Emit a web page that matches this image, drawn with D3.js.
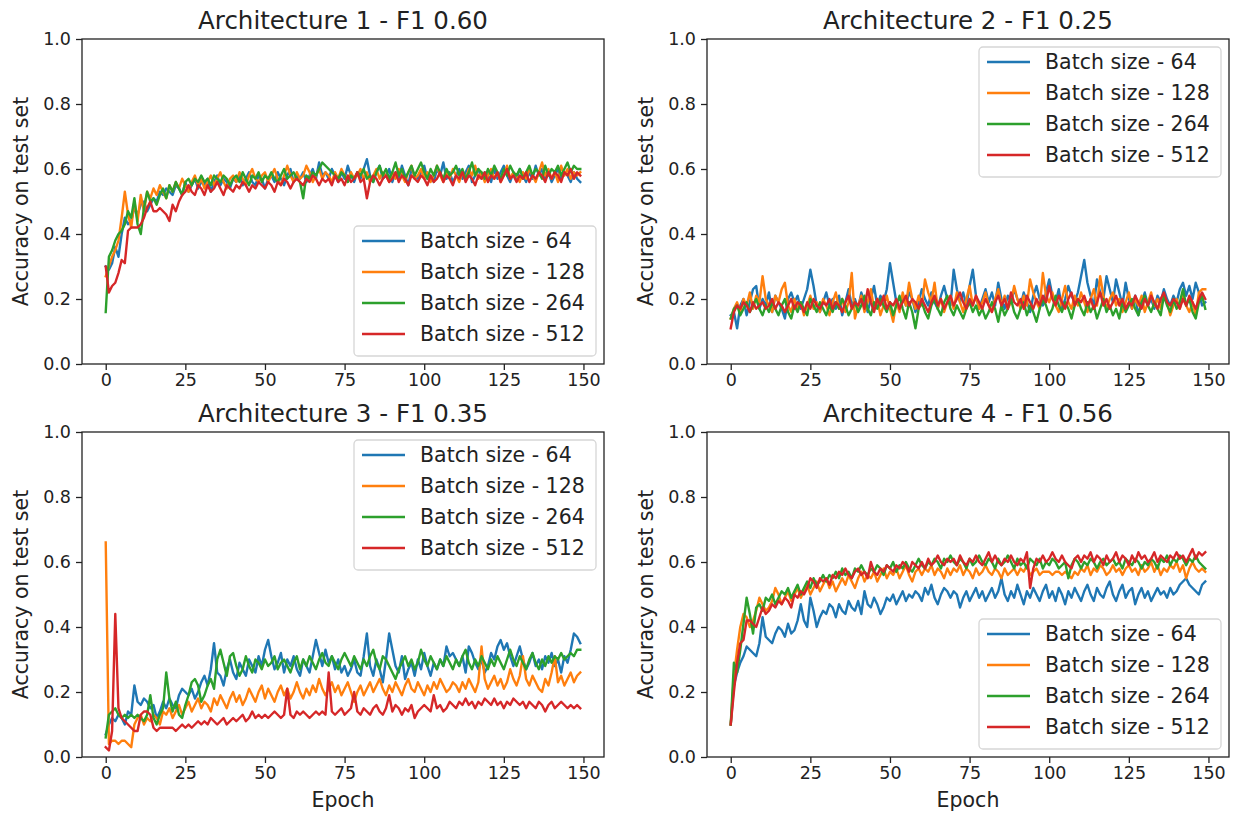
<!DOCTYPE html>
<html>
<head>
<meta charset="utf-8">
<title>Accuracy per architecture</title>
<script src="https://d3js.org/d3.v7.min.js"></script>
<style>
  body { margin: 0; background: #fff; }
  svg text { font-family: "DejaVu Sans", sans-serif; fill: #222; }
</style>
</head>
<body>
<script>
// legend labels / colours
var batchSizes = [64, 128, 264, 512];
var colors = ["#1f77b4", "#ff7f0e", "#2ca02c", "#d62728"];
var titles = ["Architecture 1 - F1 0.60", "Architecture 2 - F1 0.25",
              "Architecture 3 - F1 0.35", "Architecture 4 - F1 0.56"];
var xTicks = [0, 25, 50, 75, 100, 125, 150];
var yTicks = [0.0, 0.2, 0.4, 0.6, 0.8, 1.0];

// accuracy on test set, one value per epoch (0..149)
var arch1_64 = [0.30,0.29,0.31,0.36,0.33,0.40,0.45,0.43,0.44,0.48, 0.46,0.49,0.50,0.47,0.49,0.51,0.50,0.53,0.52,0.54, 0.53,0.52,0.55,0.54,0.52,0.56,0.53,0.55,0.57,0.54, 0.56,0.55,0.57,0.53,0.56,0.58,0.55,0.57,0.56,0.54, 0.57,0.56,0.58,0.55,0.57,0.59,0.56,0.55,0.58,0.57, 0.54,0.57,0.58,0.56,0.59,0.57,0.55,0.58,0.60,0.56, 0.58,0.57,0.59,0.56,0.58,0.60,0.57,0.62,0.58,0.59, 0.57,0.60,0.58,0.56,0.59,0.57,0.61,0.58,0.56,0.59, 0.57,0.60,0.63,0.58,0.56,0.59,0.61,0.57,0.58,0.60, 0.56,0.59,0.57,0.61,0.58,0.55,0.60,0.58,0.57,0.59, 0.61,0.57,0.58,0.56,0.60,0.58,0.62,0.57,0.59,0.56, 0.58,0.60,0.57,0.59,0.61,0.56,0.58,0.60,0.57,0.59, 0.58,0.56,0.60,0.57,0.59,0.61,0.58,0.56,0.59,0.57, 0.60,0.58,0.56,0.59,0.57,0.61,0.58,0.60,0.57,0.59, 0.56,0.58,0.60,0.57,0.59,0.58,0.56,0.59,0.57,0.56];
var arch1_128 = [0.27,0.30,0.33,0.35,0.38,0.45,0.53,0.46,0.42,0.50, 0.44,0.52,0.47,0.53,0.51,0.54,0.52,0.55,0.53,0.51, 0.55,0.53,0.56,0.54,0.57,0.55,0.53,0.56,0.58,0.55, 0.57,0.54,0.56,0.58,0.55,0.57,0.59,0.56,0.54,0.57, 0.58,0.56,0.59,0.57,0.55,0.58,0.60,0.57,0.56,0.58, 0.59,0.56,0.58,0.60,0.57,0.55,0.58,0.61,0.58,0.56, 0.59,0.57,0.58,0.61,0.59,0.56,0.58,0.60,0.57,0.59, 0.58,0.56,0.59,0.57,0.60,0.58,0.56,0.59,0.57,0.58, 0.60,0.57,0.59,0.56,0.58,0.60,0.57,0.59,0.58,0.56, 0.59,0.57,0.60,0.58,0.56,0.59,0.61,0.57,0.58,0.60, 0.57,0.59,0.56,0.58,0.61,0.58,0.56,0.59,0.57,0.60, 0.58,0.56,0.59,0.57,0.60,0.58,0.61,0.57,0.59,0.56, 0.58,0.60,0.57,0.59,0.56,0.58,0.61,0.57,0.59,0.58, 0.56,0.59,0.57,0.60,0.58,0.56,0.59,0.62,0.58,0.60, 0.57,0.59,0.56,0.61,0.58,0.60,0.57,0.59,0.58,0.59];
var arch1_264 = [0.16,0.33,0.35,0.38,0.40,0.41,0.43,0.47,0.45,0.51, 0.43,0.40,0.48,0.53,0.50,0.51,0.49,0.52,0.54,0.51, 0.55,0.53,0.56,0.54,0.52,0.56,0.57,0.55,0.57,0.56, 0.58,0.56,0.57,0.55,0.58,0.57,0.56,0.58,0.57,0.55, 0.57,0.58,0.56,0.59,0.57,0.55,0.58,0.57,0.59,0.56, 0.58,0.57,0.59,0.57,0.56,0.58,0.60,0.57,0.58,0.59, 0.57,0.56,0.51,0.58,0.57,0.59,0.58,0.60,0.62,0.61, 0.60,0.59,0.58,0.57,0.59,0.58,0.56,0.58,0.57,0.59, 0.58,0.60,0.57,0.58,0.56,0.59,0.61,0.58,0.60,0.57, 0.59,0.62,0.58,0.60,0.57,0.59,0.61,0.58,0.60,0.62, 0.59,0.57,0.60,0.58,0.61,0.59,0.57,0.60,0.58,0.59, 0.61,0.58,0.60,0.57,0.59,0.62,0.58,0.60,0.59,0.57, 0.60,0.58,0.61,0.59,0.57,0.60,0.58,0.61,0.59,0.58, 0.60,0.57,0.59,0.61,0.58,0.60,0.59,0.57,0.61,0.58, 0.60,0.59,0.61,0.58,0.60,0.62,0.59,0.61,0.60,0.60];
var arch1_512 = [0.30,0.22,0.24,0.25,0.28,0.32,0.31,0.41,0.42,0.42, 0.42,0.43,0.45,0.48,0.50,0.47,0.47,0.48,0.47,0.46, 0.44,0.49,0.47,0.50,0.52,0.53,0.55,0.53,0.52,0.55, 0.54,0.52,0.55,0.53,0.54,0.56,0.54,0.52,0.55,0.54, 0.53,0.55,0.54,0.56,0.55,0.53,0.55,0.54,0.56,0.55, 0.54,0.56,0.55,0.53,0.56,0.55,0.57,0.56,0.54,0.56, 0.57,0.56,0.55,0.57,0.56,0.58,0.57,0.55,0.57,0.56, 0.57,0.55,0.58,0.56,0.57,0.55,0.58,0.56,0.57,0.59, 0.56,0.57,0.51,0.56,0.58,0.57,0.55,0.57,0.58,0.56, 0.57,0.59,0.56,0.58,0.57,0.55,0.58,0.57,0.56,0.58, 0.57,0.55,0.58,0.56,0.57,0.59,0.56,0.58,0.57,0.55, 0.58,0.57,0.59,0.56,0.58,0.57,0.55,0.58,0.57,0.59, 0.56,0.58,0.57,0.59,0.56,0.58,0.60,0.57,0.58,0.56, 0.58,0.57,0.59,0.56,0.58,0.57,0.59,0.58,0.56,0.59, 0.57,0.59,0.58,0.56,0.59,0.58,0.60,0.57,0.59,0.58];

var arch2_64 = [0.15,0.16,0.11,0.18,0.20,0.15,0.19,0.23,0.24,0.17, 0.20,0.18,0.22,0.16,0.21,0.19,0.17,0.14,0.20,0.22, 0.19,0.21,0.17,0.20,0.23,0.29,0.24,0.18,0.16,0.19, 0.22,0.18,0.20,0.17,0.21,0.15,0.19,0.23,0.18,0.20, 0.17,0.22,0.19,0.16,0.20,0.24,0.18,0.21,0.19,0.23, 0.31,0.25,0.19,0.17,0.21,0.18,0.22,0.20,0.16,0.19, 0.23,0.20,0.18,0.22,0.19,0.17,0.21,0.24,0.20,0.18, 0.29,0.23,0.19,0.22,0.18,0.24,0.29,0.21,0.17,0.20, 0.23,0.19,0.22,0.18,0.25,0.20,0.17,0.21,0.19,0.23, 0.20,0.18,0.22,0.19,0.16,0.21,0.24,0.20,0.18,0.22, 0.26,0.21,0.19,0.23,0.17,0.20,0.24,0.21,0.19,0.22, 0.27,0.32,0.25,0.21,0.18,0.26,0.22,0.20,0.27,0.23, 0.19,0.26,0.22,0.18,0.25,0.20,0.17,0.21,0.15,0.19, 0.22,0.18,0.20,0.17,0.21,0.19,0.23,0.20,0.18,0.21, 0.19,0.23,0.25,0.21,0.24,0.20,0.25,0.22,0.18,0.19];
var arch2_128 = [0.14,0.17,0.19,0.16,0.20,0.18,0.22,0.17,0.21,0.19, 0.27,0.20,0.18,0.16,0.21,0.19,0.23,0.25,0.18,0.16, 0.20,0.17,0.19,0.15,0.18,0.21,0.17,0.19,0.16,0.20, 0.18,0.15,0.19,0.22,0.17,0.20,0.16,0.19,0.28,0.14, 0.18,0.21,0.16,0.19,0.23,0.17,0.20,0.15,0.18,0.21, 0.17,0.13,0.19,0.16,0.22,0.18,0.25,0.20,0.17,0.21, 0.18,0.26,0.22,0.19,0.25,0.17,0.20,0.16,0.19,0.21, 0.17,0.22,0.19,0.16,0.20,0.24,0.18,0.21,0.17,0.19, 0.22,0.18,0.16,0.20,0.23,0.18,0.21,0.17,0.19,0.24, 0.20,0.17,0.21,0.18,0.26,0.22,0.19,0.17,0.28,0.21, 0.19,0.22,0.18,0.16,0.20,0.24,0.19,0.17,0.21,0.18, 0.22,0.19,0.16,0.20,0.23,0.18,0.27,0.21,0.17,0.20, 0.22,0.18,0.20,0.16,0.19,0.22,0.17,0.20,0.18,0.21, 0.16,0.19,0.22,0.18,0.20,0.17,0.21,0.19,0.15,0.18, 0.20,0.17,0.21,0.18,0.16,0.19,0.15,0.22,0.23,0.23];
var arch2_264 = [0.14,0.17,0.18,0.15,0.17,0.19,0.16,0.18,0.20,0.17, 0.15,0.18,0.16,0.19,0.17,0.15,0.18,0.20,0.16,0.14, 0.18,0.16,0.19,0.17,0.15,0.20,0.18,0.16,0.19,0.17, 0.15,0.18,0.16,0.19,0.17,0.20,0.18,0.15,0.17,0.19, 0.16,0.18,0.21,0.17,0.15,0.19,0.17,0.20,0.18,0.16, 0.19,0.15,0.18,0.21,0.17,0.14,0.19,0.16,0.11,0.17, 0.19,0.16,0.14,0.18,0.20,0.17,0.15,0.19,0.21,0.17, 0.15,0.18,0.16,0.14,0.17,0.19,0.16,0.18,0.15,0.17, 0.14,0.16,0.19,0.17,0.13,0.18,0.15,0.17,0.20,0.16, 0.14,0.17,0.19,0.15,0.18,0.16,0.13,0.17,0.20,0.18, 0.15,0.17,0.21,0.18,0.16,0.19,0.17,0.14,0.18,0.20, 0.17,0.15,0.19,0.16,0.18,0.14,0.17,0.20,0.16,0.18, 0.15,0.17,0.14,0.19,0.16,0.18,0.20,0.17,0.15,0.19, 0.21,0.18,0.16,0.19,0.17,0.15,0.21,0.18,0.16,0.20, 0.17,0.19,0.23,0.18,0.20,0.16,0.14,0.19,0.21,0.17];
var arch2_512 = [0.11,0.16,0.18,0.17,0.19,0.18,0.16,0.19,0.17,0.18, 0.19,0.17,0.18,0.20,0.17,0.19,0.18,0.16,0.18,0.20, 0.17,0.19,0.18,0.16,0.19,0.17,0.20,0.18,0.17,0.19, 0.18,0.20,0.17,0.19,0.18,0.16,0.19,0.21,0.17,0.19, 0.18,0.20,0.17,0.23,0.19,0.16,0.20,0.18,0.21,0.17, 0.19,0.18,0.20,0.17,0.19,0.21,0.18,0.20,0.19,0.17, 0.20,0.18,0.16,0.19,0.21,0.18,0.20,0.17,0.19,0.21, 0.18,0.20,0.22,0.19,0.17,0.20,0.18,0.21,0.19,0.17, 0.20,0.18,0.16,0.19,0.21,0.18,0.20,0.17,0.22,0.19, 0.18,0.20,0.17,0.21,0.19,0.17,0.20,0.18,0.21,0.19, 0.24,0.20,0.18,0.21,0.19,0.17,0.20,0.22,0.18,0.20, 0.19,0.21,0.18,0.20,0.17,0.19,0.22,0.18,0.20,0.17, 0.19,0.21,0.18,0.20,0.17,0.19,0.18,0.21,0.19,0.17, 0.20,0.18,0.21,0.19,0.17,0.20,0.22,0.19,0.18,0.20, 0.19,0.17,0.20,0.18,0.21,0.19,0.17,0.20,0.22,0.20];

var arch3_64 = [0.07,0.10,0.12,0.11,0.13,0.12,0.10,0.14,0.13,0.22, 0.17,0.16,0.18,0.17,0.15,0.16,0.12,0.14,0.17,0.15, 0.18,0.16,0.15,0.19,0.21,0.20,0.19,0.21,0.18,0.20, 0.23,0.25,0.22,0.27,0.35,0.26,0.25,0.22,0.27,0.30, 0.26,0.24,0.29,0.27,0.25,0.30,0.28,0.26,0.31,0.28, 0.33,0.36,0.31,0.27,0.29,0.32,0.26,0.30,0.28,0.31, 0.27,0.25,0.30,0.28,0.26,0.31,0.36,0.32,0.28,0.33, 0.29,0.31,0.27,0.30,0.26,0.28,0.25,0.27,0.30,0.26, 0.25,0.31,0.38,0.28,0.25,0.30,0.27,0.23,0.30,0.38, 0.33,0.28,0.26,0.31,0.24,0.27,0.29,0.25,0.30,0.27, 0.32,0.28,0.25,0.29,0.27,0.30,0.28,0.34,0.31,0.32, 0.30,0.28,0.31,0.26,0.34,0.32,0.29,0.27,0.30,0.26, 0.28,0.32,0.30,0.34,0.36,0.33,0.35,0.31,0.28,0.31, 0.34,0.30,0.27,0.29,0.32,0.28,0.30,0.27,0.31,0.29, 0.32,0.28,0.30,0.26,0.31,0.29,0.33,0.38,0.37,0.35];
var arch3_128 = [0.66,0.04,0.05,0.05,0.04,0.05,0.05,0.04,0.03,0.10, 0.12,0.13,0.10,0.12,0.11,0.13,0.12,0.10,0.14,0.13, 0.15,0.12,0.14,0.16,0.13,0.15,0.17,0.14,0.16,0.18, 0.15,0.17,0.16,0.14,0.18,0.16,0.19,0.17,0.15,0.18, 0.20,0.17,0.19,0.16,0.18,0.21,0.19,0.17,0.20,0.22, 0.18,0.21,0.19,0.17,0.20,0.22,0.19,0.21,0.18,0.20, 0.23,0.20,0.18,0.21,0.19,0.22,0.20,0.24,0.21,0.19, 0.21,0.23,0.20,0.22,0.19,0.21,0.23,0.20,0.17,0.20, 0.22,0.19,0.21,0.23,0.20,0.22,0.24,0.21,0.19,0.22, 0.20,0.23,0.21,0.19,0.22,0.24,0.21,0.20,0.23,0.21, 0.19,0.22,0.20,0.23,0.21,0.24,0.22,0.20,0.21,0.23, 0.22,0.20,0.23,0.21,0.24,0.22,0.20,0.23,0.34,0.24, 0.21,0.23,0.25,0.22,0.24,0.21,0.23,0.27,0.24,0.22, 0.25,0.31,0.24,0.22,0.25,0.23,0.21,0.20,0.24,0.22, 0.26,0.31,0.23,0.25,0.22,0.24,0.26,0.23,0.25,0.26];
var arch3_264 = [0.06,0.13,0.14,0.15,0.13,0.12,0.13,0.12,0.13,0.12, 0.13,0.12,0.11,0.13,0.19,0.12,0.10,0.13,0.15,0.26, 0.18,0.14,0.17,0.13,0.12,0.16,0.19,0.23,0.24,0.22, 0.17,0.19,0.22,0.24,0.21,0.30,0.33,0.29,0.25,0.31, 0.32,0.28,0.25,0.27,0.31,0.28,0.26,0.30,0.29,0.27, 0.30,0.28,0.29,0.31,0.27,0.29,0.30,0.28,0.26,0.29, 0.31,0.27,0.30,0.28,0.31,0.29,0.27,0.30,0.32,0.29, 0.28,0.31,0.29,0.27,0.30,0.32,0.30,0.28,0.31,0.29, 0.27,0.30,0.28,0.31,0.33,0.29,0.27,0.31,0.30,0.28, 0.26,0.24,0.27,0.29,0.31,0.28,0.30,0.27,0.29,0.33, 0.30,0.28,0.31,0.29,0.27,0.30,0.28,0.31,0.29,0.27, 0.30,0.28,0.31,0.33,0.29,0.27,0.30,0.28,0.31,0.29, 0.27,0.30,0.28,0.31,0.29,0.27,0.30,0.33,0.30,0.28, 0.31,0.29,0.27,0.30,0.32,0.29,0.27,0.30,0.28,0.31, 0.29,0.31,0.30,0.32,0.30,0.31,0.32,0.31,0.33,0.33];
var arch3_512 = [0.03,0.02,0.08,0.44,0.15,0.12,0.11,0.10,0.09,0.08, 0.08,0.13,0.14,0.14,0.13,0.09,0.08,0.09,0.09,0.09, 0.09,0.09,0.08,0.09,0.10,0.09,0.10,0.09,0.10,0.11, 0.10,0.11,0.10,0.12,0.11,0.10,0.11,0.12,0.10,0.11, 0.12,0.11,0.12,0.13,0.11,0.12,0.14,0.12,0.13,0.12, 0.13,0.12,0.13,0.14,0.13,0.12,0.13,0.21,0.13,0.12, 0.14,0.13,0.14,0.13,0.12,0.13,0.14,0.13,0.14,0.13, 0.26,0.14,0.13,0.14,0.15,0.13,0.14,0.15,0.20,0.14, 0.13,0.15,0.14,0.13,0.15,0.16,0.14,0.13,0.15,0.19, 0.14,0.16,0.15,0.13,0.15,0.14,0.16,0.12,0.14,0.15, 0.16,0.15,0.14,0.19,0.15,0.16,0.14,0.15,0.17,0.16, 0.15,0.17,0.16,0.18,0.16,0.17,0.15,0.17,0.16,0.18, 0.17,0.16,0.18,0.16,0.17,0.15,0.17,0.16,0.18,0.17, 0.16,0.17,0.15,0.17,0.16,0.15,0.17,0.16,0.14,0.16, 0.17,0.15,0.16,0.17,0.16,0.15,0.16,0.15,0.16,0.15];

var arch4_64 = [0.10,0.22,0.26,0.29,0.31,0.34,0.33,0.32,0.31,0.35, 0.43,0.37,0.36,0.35,0.38,0.40,0.39,0.37,0.41,0.38, 0.39,0.42,0.47,0.42,0.40,0.49,0.45,0.40,0.43,0.45, 0.44,0.47,0.46,0.43,0.47,0.45,0.44,0.48,0.46,0.45, 0.48,0.44,0.51,0.47,0.46,0.49,0.47,0.44,0.46,0.49, 0.48,0.50,0.47,0.49,0.51,0.48,0.50,0.49,0.51,0.50, 0.48,0.52,0.50,0.53,0.49,0.47,0.50,0.52,0.51,0.49, 0.51,0.50,0.46,0.49,0.51,0.48,0.50,0.52,0.49,0.51, 0.48,0.50,0.52,0.49,0.51,0.55,0.50,0.48,0.51,0.49, 0.53,0.50,0.47,0.51,0.49,0.52,0.50,0.48,0.51,0.53, 0.49,0.51,0.48,0.52,0.50,0.47,0.51,0.49,0.52,0.50, 0.48,0.51,0.53,0.50,0.48,0.52,0.50,0.49,0.52,0.54, 0.50,0.48,0.51,0.53,0.49,0.51,0.52,0.47,0.50,0.52, 0.49,0.51,0.48,0.50,0.52,0.50,0.51,0.49,0.52,0.50, 0.51,0.53,0.54,0.55,0.53,0.52,0.51,0.50,0.53,0.54];
var arch4_128 = [0.10,0.25,0.33,0.40,0.44,0.43,0.40,0.42,0.45,0.49, 0.47,0.45,0.46,0.48,0.52,0.50,0.47,0.49,0.51,0.48, 0.50,0.52,0.49,0.51,0.53,0.50,0.52,0.54,0.51,0.53, 0.55,0.52,0.54,0.51,0.53,0.55,0.53,0.56,0.54,0.52, 0.55,0.57,0.54,0.56,0.55,0.57,0.54,0.56,0.58,0.55, 0.57,0.56,0.58,0.55,0.57,0.59,0.56,0.54,0.57,0.58, 0.56,0.58,0.57,0.59,0.56,0.58,0.57,0.55,0.58,0.56, 0.58,0.57,0.59,0.56,0.58,0.57,0.55,0.58,0.56,0.57, 0.59,0.57,0.56,0.58,0.57,0.55,0.58,0.56,0.57,0.58, 0.56,0.58,0.57,0.59,0.56,0.57,0.58,0.56,0.57,0.57, 0.57,0.56,0.57,0.57,0.56,0.57,0.56,0.55,0.57,0.56, 0.58,0.57,0.59,0.56,0.58,0.57,0.59,0.58,0.56,0.57, 0.59,0.57,0.58,0.56,0.58,0.59,0.57,0.58,0.56,0.59, 0.57,0.58,0.60,0.57,0.59,0.56,0.58,0.57,0.59,0.58, 0.60,0.57,0.59,0.55,0.58,0.60,0.58,0.57,0.58,0.57];
var arch4_264 = [0.10,0.29,0.26,0.33,0.41,0.49,0.44,0.38,0.46,0.47, 0.45,0.49,0.48,0.50,0.47,0.49,0.51,0.50,0.52,0.49, 0.51,0.53,0.50,0.52,0.54,0.52,0.55,0.53,0.54,0.56, 0.54,0.56,0.55,0.57,0.55,0.58,0.56,0.57,0.55,0.58, 0.57,0.59,0.57,0.56,0.58,0.57,0.59,0.58,0.56,0.59, 0.58,0.60,0.57,0.59,0.58,0.60,0.58,0.57,0.59,0.61, 0.59,0.58,0.60,0.59,0.61,0.60,0.58,0.61,0.60,0.62, 0.60,0.59,0.61,0.60,0.58,0.61,0.59,0.60,0.62,0.60, 0.59,0.61,0.60,0.58,0.61,0.59,0.60,0.62,0.60,0.58, 0.61,0.59,0.60,0.58,0.61,0.60,0.59,0.61,0.58,0.60, 0.59,0.61,0.60,0.58,0.59,0.60,0.55,0.59,0.61,0.60, 0.58,0.60,0.59,0.61,0.60,0.58,0.60,0.61,0.59,0.60, 0.61,0.59,0.60,0.58,0.61,0.60,0.59,0.61,0.60,0.58, 0.60,0.59,0.61,0.60,0.58,0.61,0.60,0.62,0.59,0.61, 0.60,0.62,0.61,0.59,0.61,0.60,0.62,0.60,0.59,0.58];
var arch4_512 = [0.10,0.20,0.29,0.35,0.36,0.42,0.42,0.41,0.40,0.43, 0.46,0.44,0.45,0.47,0.46,0.48,0.47,0.49,0.48,0.46, 0.50,0.49,0.51,0.50,0.52,0.55,0.54,0.52,0.55,0.54, 0.55,0.53,0.56,0.55,0.57,0.56,0.58,0.56,0.55,0.57, 0.58,0.56,0.57,0.55,0.60,0.57,0.56,0.58,0.57,0.59, 0.58,0.57,0.59,0.58,0.60,0.59,0.57,0.60,0.59,0.58, 0.60,0.58,0.61,0.59,0.60,0.62,0.60,0.59,0.61,0.60, 0.61,0.59,0.62,0.60,0.59,0.61,0.60,0.62,0.60,0.59, 0.61,0.63,0.60,0.62,0.60,0.59,0.61,0.60,0.62,0.60, 0.59,0.61,0.60,0.63,0.52,0.58,0.61,0.60,0.62,0.60, 0.61,0.63,0.61,0.60,0.62,0.60,0.59,0.58,0.61,0.62, 0.60,0.62,0.61,0.63,0.60,0.62,0.61,0.59,0.62,0.60, 0.61,0.63,0.60,0.62,0.61,0.59,0.62,0.60,0.63,0.61, 0.62,0.60,0.61,0.63,0.60,0.62,0.61,0.60,0.62,0.61, 0.63,0.61,0.62,0.60,0.62,0.64,0.61,0.63,0.62,0.63];

var panels = [
  {series: [arch1_64, arch1_128, arch1_264, arch1_512], left: 82,  top: 39,  legend: "lower"},
  {series: [arch2_64, arch2_128, arch2_264, arch2_512], left: 707, top: 39,  legend: "upper"},
  {series: [arch3_64, arch3_128, arch3_264, arch3_512], left: 82,  top: 432, legend: "upper"},
  {series: [arch4_64, arch4_128, arch4_264, arch4_512], left: 707, top: 432, legend: "lower"}
];

var width = 1238, height = 813;
var pw = 522, ph = 325;

var svg = d3.select("body").append("svg")
    .attr("width", width)
    .attr("height", height);

var x = d3.scaleLinear().domain([-7.45, 156.45]).range([0, pw]);
var y = d3.scaleLinear().domain([0, 1]).range([ph, 0]);

var line = d3.line()
    .x(function(d, i) { return x(i); })
    .y(function(d) { return y(d); });

panels.forEach(function(p, k) {
  var g = svg.append("g").attr("transform", "translate(" + p.left + "," + p.top + ")");

  var clip = "clip" + k;
  g.append("clipPath").attr("id", clip)
    .append("rect").attr("width", pw).attr("height", ph);

  g.append("g").attr("clip-path", "url(#" + clip + ")")
    .selectAll("path")
    .data(p.series)
    .enter()
      .append("path")
      .attr("d", line)
      .attr("fill", "none")
      .attr("stroke", function(d, i) { return colors[i]; })
      .attr("stroke-width", 2.4)
      .attr("stroke-linejoin", "round")
      .attr("stroke-linecap", "square");

  var xAxis = d3.axisBottom(x).tickValues(xTicks).tickSize(6).tickPadding(4);
  var yAxis = d3.axisLeft(y).tickValues(yTicks).tickSize(6).tickPadding(5)
                .tickFormat(d3.format(".1f"));

  var gx = g.append("g").attr("transform", "translate(0," + ph + ")").call(xAxis);
  var gy = g.append("g").call(yAxis);
  [gx, gy].forEach(function(a) {
    a.select(".domain").remove();
    a.selectAll("line").attr("stroke", "#222").attr("stroke-width", 1.3);
    a.selectAll("text").style("font-size", "17.5px").attr("fill", "#222");
  });

  g.append("rect")
    .attr("width", pw).attr("height", ph)
    .attr("fill", "none").attr("stroke", "#222").attr("stroke-width", 1.3);

  g.append("text")
    .attr("x", pw / 2).attr("y", -10)
    .attr("text-anchor", "middle")
    .style("font-size", "24.5px")
    .text(titles[k]);

  g.append("text")
    .attr("transform", "translate(-54," + (ph / 2) + ") rotate(-90)")
    .attr("text-anchor", "middle")
    .style("font-size", "20.5px")
    .text("Accuracy on test set");

  if (k >= 2) {
    g.append("text")
      .attr("x", pw / 2).attr("y", ph + 50)
      .attr("text-anchor", "middle")
      .style("font-size", "20.5px")
      .text("Epoch");
  }

  // legend
  var lw = 242, lh = 130;
  var lx = pw - 8 - lw;
  var ly = p.legend === "upper" ? 8 : ph - 8 - lh;
  var lg = g.append("g").attr("transform", "translate(" + lx + "," + ly + ")");
  lg.append("rect")
    .attr("width", lw).attr("height", lh)
    .attr("rx", 4)
    .attr("fill", "#fff").attr("fill-opacity", 0.8)
    .attr("stroke", "#d6d6d6").attr("stroke-width", 1.3);
  var items = lg.selectAll("g.item")
    .data(batchSizes)
    .enter()
      .append("g")
      .attr("transform", function(d, i) { return "translate(0," + (15 + i * 31) + ")"; });
  items.append("line")
    .attr("x1", 8).attr("x2", 51)
    .attr("stroke", function(d, i) { return colors[i]; })
    .attr("stroke-width", 2.4);
  items.append("text")
    .attr("x", 66).attr("dy", "0.36em")
    .style("font-size", "20.5px")
    .text(function(d) { return "Batch size - " + d; });
});
</script>
</body>
</html>
